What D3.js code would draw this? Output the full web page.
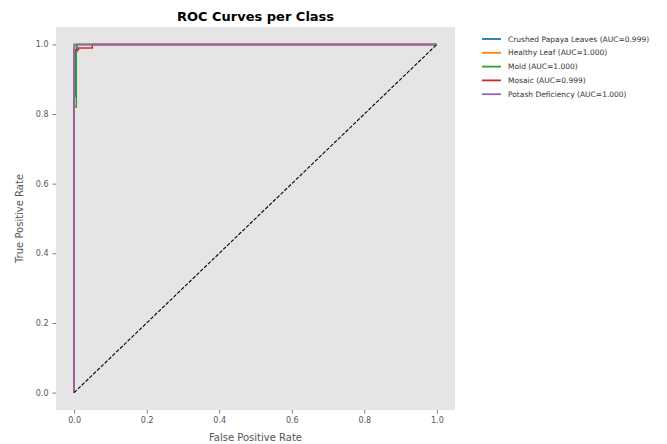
<!DOCTYPE html>
<html>
<head>
<meta charset="utf-8">
<script src="https://cdn.jsdelivr.net/npm/d3@7"></script>
<style>
  body { margin: 0; background: #fff; }
  text { font-family: "DejaVu Sans", sans-serif; }
</style>
</head>
<body>
<svg id="chart" width="667" height="444"></svg>
<script>
// ROC points
const classNames = ['Crushed Papaya Leaves', 'Healthy Leaf', 'Mold', 'Mosaic', 'Potash Deficiency'];
const aucValues = ['0.999', '1.000', '1.000', '0.999', '1.000'];
const classColors = ['#1f77b4', '#ff7f0e', '#2ca02c', '#d62728', '#9467bd'];
const fprCrushed = [0, 0, 0.003, 0.003, 0.008, 0.008, 1];
const tprCrushed = [0, 0.85, 0.85, 0.98, 0.98, 1, 1];
const fprHealthy = [0, 0, 1];
const tprHealthy = [0, 1, 1];
const fprMold = [0, 0, 0.006, 0.006, 1];
const tprMold = [0, 0.82, 0.82, 1, 1];
const fprMosaic = [0, 0, 0.012, 0.012, 0.05, 0.05, 1];
const tprMosaic = [0, 0.985, 0.985, 0.99, 0.99, 1, 1];
const fprPotash = [0, 0, 1];
const tprPotash = [0, 1, 1];
const tickValues = [0, 0.2, 0.4, 0.6, 0.8, 1.0];

const curves = [
  [fprCrushed, tprCrushed],
  [fprHealthy, tprHealthy],
  [fprMold, tprMold],
  [fprMosaic, tprMosaic],
  [fprPotash, tprPotash],
].map(([f, t], i) => ({
  name: classNames[i],
  auc: aucValues[i],
  color: classColors[i],
  pts: f.map((v, j) => [v, t[j]]),
}));

const svg = d3.select('#chart');
const plot = {left: 56, right: 455, top: 27, bottom: 410};

const x = d3.scaleLinear().domain([-0.05, 1.05]).range([plot.left, plot.right]);
const y = d3.scaleLinear().domain([-0.05, 1.05]).range([plot.bottom, plot.top]);

svg.append('rect')
  .attr('x', plot.left).attr('y', plot.top)
  .attr('width', plot.right - plot.left)
  .attr('height', plot.bottom - plot.top)
  .attr('fill', '#e5e5e5');

svg.append('clipPath').attr('id', 'clip')
  .append('rect')
  .attr('x', plot.left).attr('y', plot.top)
  .attr('width', plot.right - plot.left)
  .attr('height', plot.bottom - plot.top);

const line = d3.line().x(d => x(d[0])).y(d => y(d[1]));
const g = svg.append('g').attr('clip-path', 'url(#clip)');

curves.forEach(c => {
  g.append('path')
    .attr('d', line(c.pts))
    .attr('fill', 'none')
    .attr('stroke', c.color)
    .attr('stroke-width', 1.5);
});

g.append('path')
  .attr('d', line([[0, 0], [1, 1]]))
  .attr('fill', 'none')
  .attr('stroke', '#000')
  .attr('stroke-width', 1.1)
  .attr('stroke-dasharray', '3.7,1.6');

const fmt = d3.format('.1f');
const xAxis = svg.append('g')
  .attr('transform', `translate(0,${plot.bottom})`)
  .call(d3.axisBottom(x).tickValues(tickValues).tickFormat(fmt).tickSize(3.5).tickPadding(4));
const yAxis = svg.append('g')
  .attr('transform', `translate(${plot.left},0)`)
  .call(d3.axisLeft(y).tickValues(tickValues).tickFormat(fmt).tickSize(3.5).tickPadding(4));

[xAxis, yAxis].forEach(a => {
  a.select('.domain').remove();
  a.selectAll('.tick line').attr('stroke', '#555').attr('stroke-width', 0.8);
  a.selectAll('.tick text')
    .attr('fill', '#555')
    .style('font-size', '8px')
    .style('font-family', '"DejaVu Sans", sans-serif');
});

svg.append('text')
  .attr('x', (plot.left + plot.right) / 2)
  .attr('y', 441)
  .attr('text-anchor', 'middle')
  .attr('fill', '#555')
  .style('font-size', '10px')
  .text('False Positive Rate');

svg.append('text')
  .attr('transform', `translate(23,${(plot.top + plot.bottom) / 2}) rotate(-90)`)
  .attr('text-anchor', 'middle')
  .attr('fill', '#555')
  .style('font-size', '10px')
  .text('True Positive Rate');

svg.append('text')
  .attr('x', (plot.left + plot.right) / 2)
  .attr('y', 21)
  .attr('text-anchor', 'middle')
  .attr('fill', '#000')
  .style('font-size', '13px')
  .style('font-weight', 'bold')
  .text('ROC Curves per Class');

// legend outside the axes, upper left
const legend = svg.append('g').attr('transform', 'translate(482,39)');
curves.forEach((c, i) => {
  const row = legend.append('g').attr('transform', `translate(0,${i * 13.8})`);
  row.append('line')
    .attr('x1', 0).attr('x2', 19)
    .attr('stroke', c.color)
    .attr('stroke-width', 1.8);
  row.append('text')
    .attr('x', 26)
    .attr('y', 2.6)
    .attr('fill', '#333')
    .style('font-size', '7.5px')
    .text(`${c.name} (AUC=${c.auc})`);
});
</script>
</body>
</html>
